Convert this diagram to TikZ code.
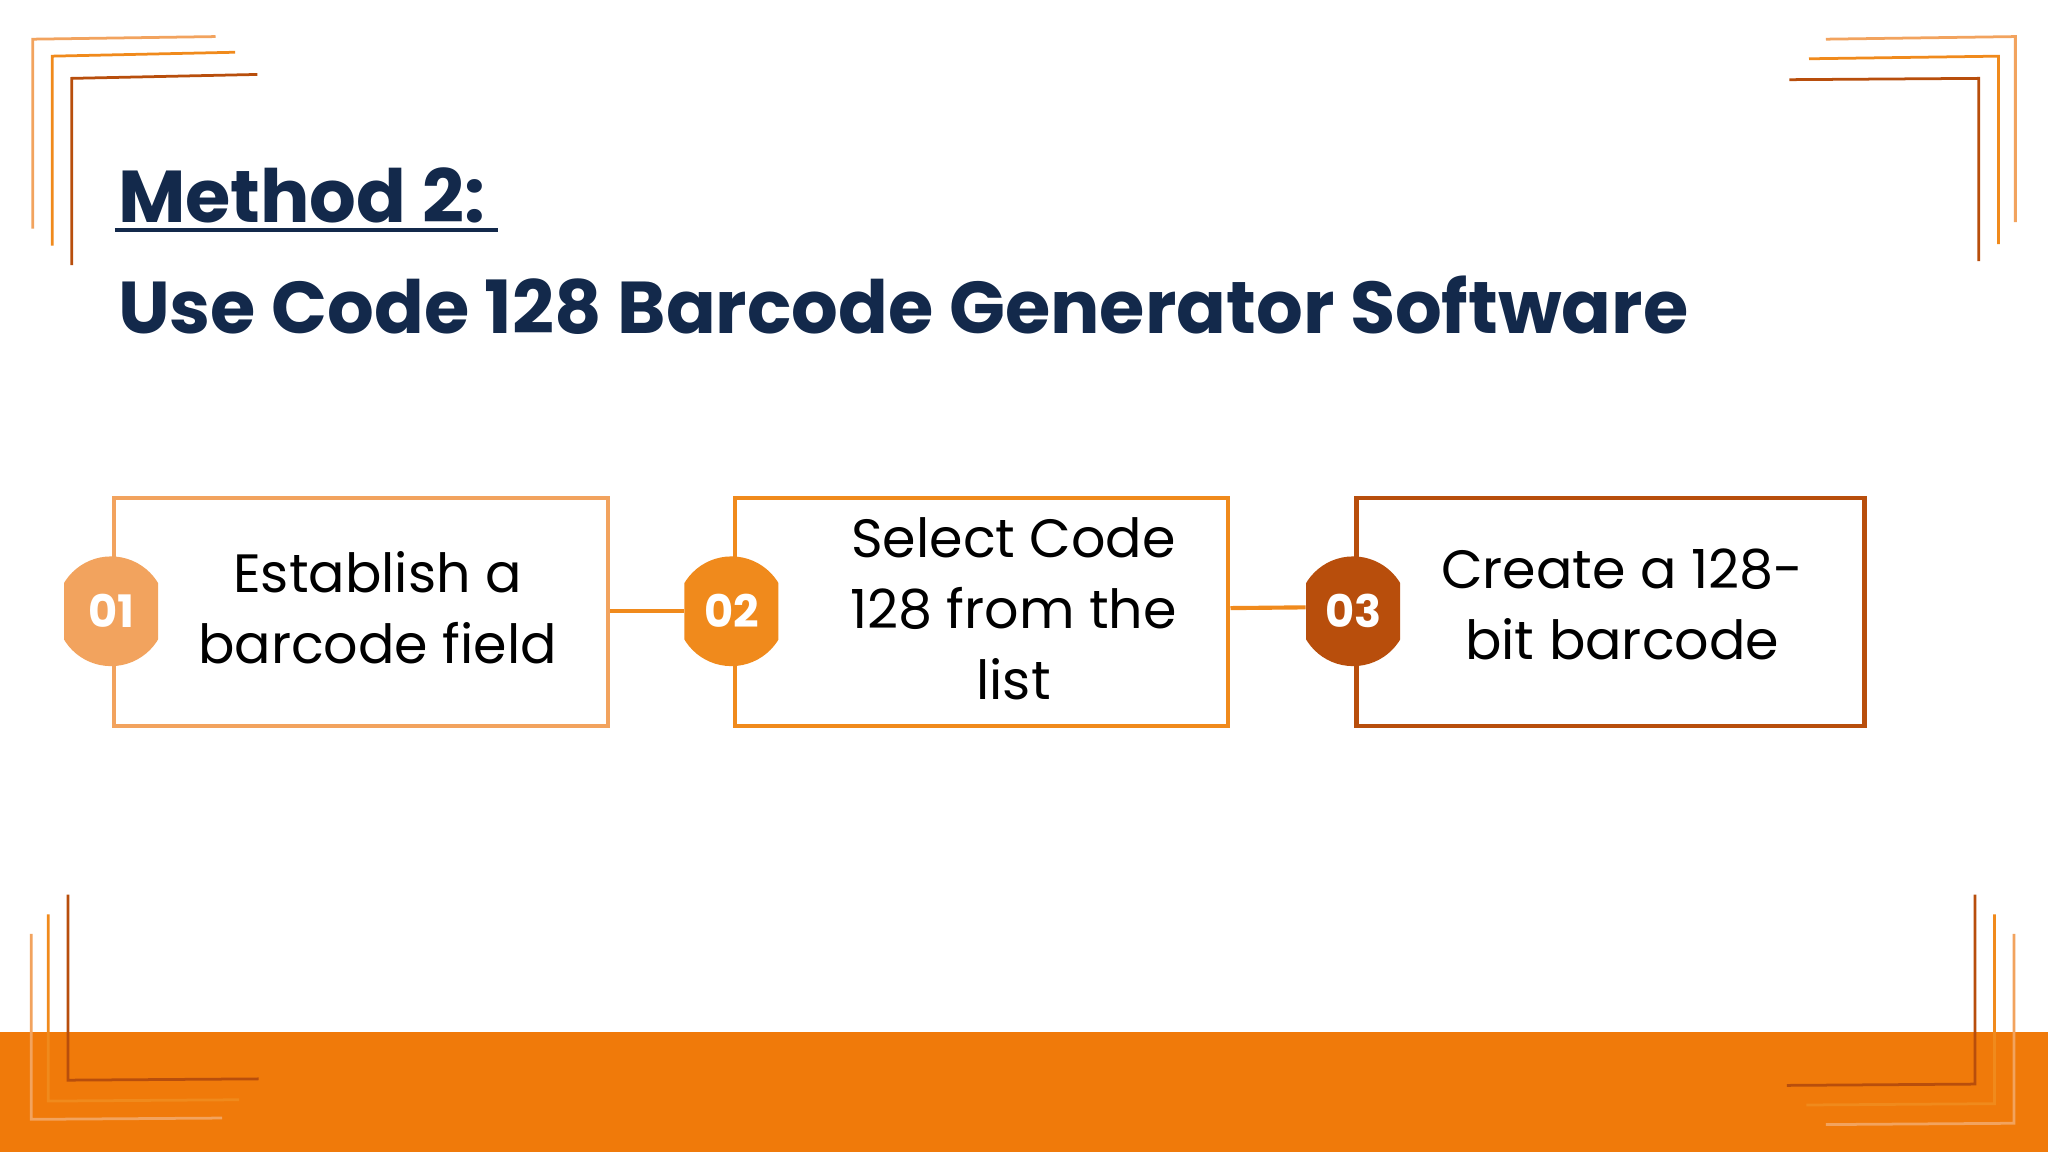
\documentclass[tikz,border=0pt]{standalone}
\usepackage{fontspec}
\setmainfont{Poppins}
\definecolor{navy}{HTML}{13294B}
\definecolor{cA}{HTML}{F2A35E}
\definecolor{cB}{HTML}{F08A1C}
\definecolor{cC}{HTML}{B84E0C}
\definecolor{band}{HTML}{F07A0A}
\begin{document}
\begin{tikzpicture}[x=0.02cm,y=-0.02cm,
  stepbox/.style={draw=#1,line width=1.8pt,minimum width=7.56cm,minimum height=3.48cm,anchor=north west,inner sep=0pt},
  steptxt/.style={font=\fontsize{23.5}{31}\selectfont,align=center,text=black},
  badge/.style={minimum width=1.44cm,minimum height=1.68cm,inner sep=0pt,font=\fontsize{19.5}{19.5}\selectfont\bfseries,text=white},
  link/.style={draw=#1,line width=1.8pt},
  brk/.style={draw=#1,line width=1.2pt}]
\fill[white] (0,0) rectangle (1568,882);
\fill[band] (0,790) rectangle (1568,882);
% corners
\draw[brk=cA] (25,175)--(25,30)--(165,28);
\draw[brk=cB] (40,188)--(40,43)--(180,40);
\draw[brk=cC] (55,203)--(55,60)--(197,57);
\draw[brk=cA] (1543,170)--(1543,28)--(1398,30);
\draw[brk=cB] (1530,187)--(1530,43)--(1385,45);
\draw[brk=cC] (1515,200)--(1515,60)--(1370,61);
\draw[brk=cC] (52,685)--(52,827)--(198,826);
\draw[brk=cB] (37,700)--(37,843)--(183,842);
\draw[brk=cA] (24,715)--(24,857)--(170,856);
\draw[brk=cC] (1512,685)--(1512,830)--(1368,831);
\draw[brk=cB] (1527,700)--(1527,845)--(1383,846);
\draw[brk=cA] (1542,715)--(1542,860)--(1398,861);
% title
\node[anchor=base west,inner sep=0pt,text=navy,font=\fontsize{32}{32}\selectfont\bfseries] (t1) at (90,170) {Method 2:};
\draw[navy,line width=1.8pt] (88,176)--(381,176);
\node[anchor=base west,inner sep=0pt,text=navy,font=\fontsize{32}{32}\selectfont\bfseries] (t2) at (90,255) {Use Code 128 Barcode Generator Software};
% boxes
\node[stepbox=cA] (s1) at (86,380) {};
\node[stepbox=cB] (s2) at (561,380) {};
\node[stepbox=cC,minimum width=7.78cm] (s3) at (1037,380) {};
\node[steptxt] at (289,465) {Establish a\\barcode field};
\node[steptxt] at (776,466) {Select Code\\128 from the\\list};
\node[steptxt] at (1242,463) {Create a 128-\\bit barcode};
% badges
\foreach \n/\x/\c/\t in {b1/85/cA/01,b2/560/cB/02,b3/1036/cC/03}{
  \begin{scope}
    \clip (\x-36,420) rectangle (\x+36,516);
    \fill[\c] (\x,468) circle (42);
  \end{scope}
  \node[badge] (\n) at (\x,468) {\t};
}
\draw[link=cB] (s1.east |- b2.west) -- (b2.west);
\draw[link=cB] ([yshift=0.06cm]s2.east) -- ([yshift=0.06cm]b3.west);
\end{tikzpicture}
\end{document}
